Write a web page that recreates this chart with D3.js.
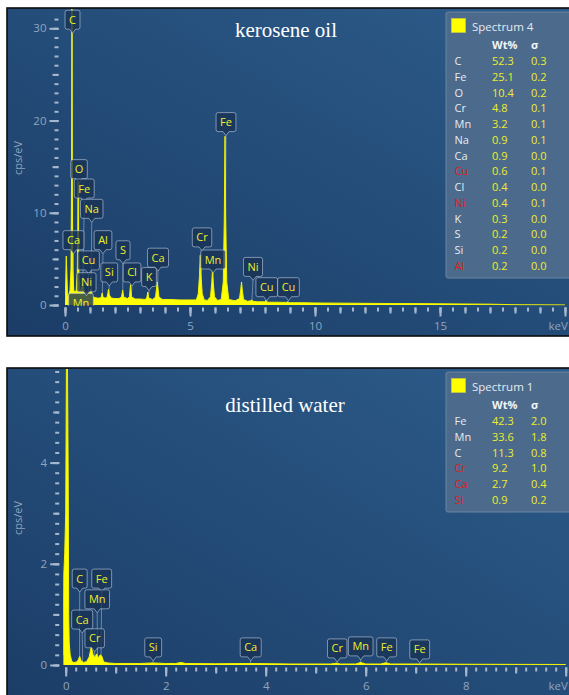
<!DOCTYPE html>
<html><head><meta charset="utf-8">
<script src="https://cdn.jsdelivr.net/npm/d3@7"></script>
<style>html,body{margin:0;padding:0;background:#fff;} svg{display:block;}</style>
</head><body>
<svg id="chart" width="569" height="695"></svg>
<script>
// ---------------- DATA ----------------
// Panel 1: kerosene oil spectrum (energy keV, counts cps/eV)
const keroseneKeV = [0,0.02,0.05,0.08,0.1,0.15,0.2,0.24,0.262,0.277,0.292,0.31,0.35,0.4,0.45,0.49,0.51,0.525,0.54,0.56,0.6,0.64,0.68,0.705,0.73,0.78,0.85,0.9,0.93,0.97,1.0,1.04,1.08,1.12,1.2,1.3,1.4,1.45,1.486,1.52,1.6,1.68,1.71,1.74,1.77,1.85,2.0,2.15,2.26,2.307,2.35,2.5,2.58,2.62,2.66,2.8,3.0,3.2,3.27,3.31,3.35,3.5,3.62,3.69,3.76,3.9,4.2,4.6,5.0,5.25,5.33,5.38,5.41,5.44,5.49,5.57,5.7,5.82,5.87,5.9,5.93,5.98,6.1,6.25,6.33,6.37,6.4,6.43,6.47,6.55,6.8,6.98,7.03,7.06,7.09,7.14,7.3,7.42,7.47,7.52,7.7,7.98,8.04,8.1,8.4,8.85,8.9,8.95,9.5,10,11,12,13,14,15,16,17,18,20];
const keroseneCps = [0.3,1.5,5.3,3.0,1.0,1.1,1.6,4.0,14,34,14,4.0,1.6,1.4,1.6,3.5,8.0,13.5,8.0,3.0,1.5,1.7,2.0,2.4,2.0,1.4,1.3,1.3,1.4,1.3,1.4,1.7,1.2,0.9,0.8,0.75,0.75,0.85,1.3,0.85,0.75,0.8,1.2,1.7,1.1,0.75,0.7,0.7,0.85,1.6,0.85,0.7,0.9,2.2,0.9,0.65,0.65,0.6,0.75,1.4,0.75,0.6,0.85,2.5,0.85,0.6,0.6,0.55,0.55,0.55,1.2,3.2,5.4,3.2,1.2,0.55,0.5,0.9,2.4,3.8,2.4,0.9,0.5,0.6,2.5,9.0,18.3,9.0,2.5,0.6,0.45,0.7,1.7,2.5,1.7,0.6,0.4,0.45,0.55,0.4,0.35,0.35,0.5,0.3,0.3,0.28,0.35,0.25,0.25,0.22,0.2,0.18,0.16,0.15,0.13,0.11,0.09,0.03,0.01];

// Panel 2: distilled water spectrum
const waterKeV = [-0.05,-0.04,-0.02,0,0.015,0.025,0.035,0.05,0.06,0.07,0.09,0.12,0.15,0.22,0.25,0.28,0.31,0.36,0.42,0.47,0.51,0.55,0.58,0.62,0.65,0.69,0.72,0.76,0.85,1.0,1.5,1.74,2.0,2.2,2.3,2.4,3.0,3.69,4.5,5.3,5.41,5.5,5.8,5.9,6.0,6.3,6.4,6.5,7.06,8,10];
const waterCps = [0.2,1.8,2.2,3.0,6.0,9.0,6.0,3.8,1.0,0.45,0.2,0.08,0.05,0.06,0.1,0.17,0.08,0.05,0.07,0.16,0.36,0.2,0.15,0.22,0.14,0.2,0.18,0.06,0.04,0.03,0.03,0.04,0.03,0.03,0.05,0.03,0.025,0.03,0.02,0.02,0.035,0.02,0.02,0.05,0.02,0.02,0.045,0.02,0.02,0.015,0.01];

// Peak labels: element, peak energy, label centre energy, label bottom (cps/eV)
const keroseneLabelEl   = ["Mn","C","O","Fe","Na","Ca","Al","Cu","S","Ca","Si","Cl","K","Ni","Cr","Mn","Ni","Cu","Cu","Fe"];
const keroseneLabelPeak = [0.637,0.277,0.525,0.705,1.04,0.341,1.486,0.93,2.307,3.69,1.74,2.62,3.31,0.851,5.41,5.90,7.47,8.04,8.90,6.40];
const keroseneLabelKeV  = [0.64,0.30,0.56,0.77,1.07,0.34,1.52,0.94,2.32,3.72,1.77,2.68,3.36,0.86,5.48,5.92,7.52,8.07,8.94,6.44];
const keroseneLabelCps  = [-0.8,29.9,13.7,11.6,9.4,6.0,6.0,3.8,4.9,4.1,2.5,2.5,2.0,1.44,6.3,3.9,3.1,0.9,0.9,18.8];

const waterLabelEl   = ["C","Fe","Mn","Ca","Cr","Si","Ca","Cr","Mn","Fe","Fe"];
const waterLabelPeak = [0.277,0.705,0.637,0.341,0.573,1.74,3.69,5.41,5.90,6.40,7.06];
const waterLabelKeV  = [0.28,0.72,0.63,0.33,0.58,1.75,3.70,5.43,5.90,6.42,7.08];
const waterLabelCps  = [1.52,1.52,1.11,0.71,0.34,0.16,0.16,0.14,0.18,0.16,0.12];

// Quantification tables
const keroseneElements = ["C","Fe","O","Cr","Mn","Na","Ca","Cu","Cl","Ni","K","S","Si","Al"];
const keroseneWt       = [52.3,25.1,10.4,4.8,3.2,0.9,0.9,0.6,0.4,0.4,0.3,0.2,0.2,0.2];
const keroseneSigma    = [0.3,0.2,0.2,0.1,0.1,0.1,0.0,0.1,0.0,0.1,0.0,0.0,0.0,0.0];
const keroseneRed      = ["Cu","Ni","Al"];

const waterElements = ["Fe","Mn","C","Cr","Ca","Si"];
const waterWt       = [42.3,33.6,11.3,9.2,2.7,0.9];
const waterSigma    = [2.0,1.8,0.8,1.0,0.4,0.2];
const waterRed      = ["Cr","Ca","Si"];

// Tick labels
const keroseneXTicks = [0,5,10,15];
const keroseneYTicks = [0,10,20,30];
const waterXTicks = [0,2,4,6,8];
const waterYTicks = [0,2,4];

// ---------------- DRAW ----------------
const svg = d3.select("#chart");
const defs = svg.append("defs");
const grad = defs.append("linearGradient").attr("id","bg")
  .attr("x1","0").attr("y1","1").attr("x2","1").attr("y2","0");
grad.append("stop").attr("offset","0").attr("stop-color","#1b3d67");
grad.append("stop").attr("offset","1").attr("stop-color","#2d5c8a");

const tickColor = "#a6b8cd";
const labelColor = "#8fa5bf";
const uiFont = "'Open Sans', 'Noto Sans', sans-serif";

function drawPanel(o) {
  const g = svg.append("g");
  const [bx, by, bw, bh] = o.box;
  g.append("rect").attr("x",bx).attr("y",by).attr("width",bw).attr("height",bh)
    .attr("fill","url(#bg)").attr("stroke","#0c0c0c").attr("stroke-width",1.6);

  const x = d3.scaleLinear().domain(o.xDomain).range(o.xRange);
  const y = d3.scaleLinear().domain(o.yDomain).range(o.yRange);

  // Y axes (minor / medium / major)
  const yAxisX = x(0) - 6.5;
  const yMinor = d3.range(0, o.yTickMax + 1e-9, o.yMinor).map(v => +v.toFixed(4));
  const yMed = d3.range(0, o.yTickMax + 1e-9, o.yMed).map(v => +v.toFixed(4));
  [[yMinor,4],[yMed,6],[o.yTicks,9]].forEach(([vals,size],i) => {
    const ax = d3.axisLeft(y).tickValues(vals).tickSize(size).tickPadding(3)
      .tickFormat(i===2 ? d3.format("d") : () => "");
    const ga = g.append("g").attr("transform",`translate(${yAxisX},0)`).call(ax);
    ga.select(".domain").remove();
    ga.selectAll("line").attr("stroke",tickColor).attr("stroke-width",2);
    ga.selectAll("text").attr("fill",labelColor).attr("font-size",11.5).attr("font-family",uiFont);
  });

  // X axes
  const xAxisY = y(0) + 2.5;
  const xMinor = d3.range(0, o.xTickMax + 1e-9, o.xMinor).map(v => +v.toFixed(4));
  const xMed = d3.range(0, o.xTickMax + 1e-9, o.xMed).map(v => +v.toFixed(4));
  const xMaj = d3.range(0, o.xTickMax + 1e-9, o.xMaj).map(v => +v.toFixed(4));
  [[xMinor,4,null],[xMed,6,null],[xMaj,9,o.xTicks]].forEach(([vals,size,lab],i) => {
    const ax = d3.axisBottom(x).tickValues(vals).tickSize(size).tickPadding(5.5)
      .tickFormat(d => (lab && lab.includes(d)) ? d3.format("d")(d) : "");
    const ga = g.append("g").attr("transform",`translate(0,${xAxisY})`).call(ax);
    ga.select(".domain").remove();
    ga.selectAll("line").attr("stroke",tickColor).attr("stroke-width",2);
    ga.selectAll("text").attr("fill",labelColor).attr("font-size",11.5).attr("font-family",uiFont);
  });
  g.append("text").attr("x",548.5).attr("y",xAxisY + 9 + 5.5 + 8.2)
    .attr("fill",labelColor).attr("font-size",11.5).attr("font-family",uiFont).text("keV");

  // y label
  g.append("text").attr("transform",`translate(${bx+14.5},${o.yLabelY}) rotate(-90)`)
    .attr("text-anchor","middle").attr("fill",labelColor).attr("font-size",11)
    .attr("font-family",uiFont).text("cps/eV");

  // title
  g.append("text").attr("x",o.titleX).attr("y",o.titleY).attr("text-anchor","middle")
    .attr("fill","#ffffff").attr("font-size",21)
    .attr("font-family","'Liberation Serif','Times New Roman',serif").text(o.title);

  // clip
  const cid = "clip" + o.id;
  defs.append("clipPath").attr("id",cid).append("rect")
    .attr("x", x(o.xDomain[0])).attr("y", by + 1)
    .attr("width", bx + bw - x(o.xDomain[0])).attr("height", y(0) + 0.5 - by - 1);

  const spec = d3.zip(o.keV, o.cps);
  const labH = 19, tipH = 4;

  // connector lines
  const conn = g.append("g").attr("clip-path",`url(#${cid})`);
  o.labEl.forEach((el,i) => {
    conn.append("line")
      .attr("x1", x(o.labKeV[i])).attr("y1", y(o.labCps[i]) + tipH)
      .attr("x2", x(o.labPeak[i])).attr("y2", y(0))
      .attr("stroke","rgba(205,215,230,0.45)").attr("stroke-width",1);
  });

  // spectrum
  const sg = g.append("g").attr("clip-path",`url(#${cid})`);
  sg.append("path").datum(spec)
    .attr("d", d3.area().x(d => x(d[0])).y0(y(0)).y1(d => y(d[1])))
    .attr("fill","#ffff00");
  sg.append("path").datum(spec)
    .attr("d", d3.line().x(d => x(d[0])).y(d => y(d[1])))
    .attr("fill","none").attr("stroke","#f2f200").attr("stroke-width",1);

  // labels
  const lg = g.append("g").attr("clip-path",`url(#${cid}L)`);
  defs.append("clipPath").attr("id",cid+"L").append("rect")
    .attr("x", bx).attr("y", by).attr("width", bw).attr("height", y(0) + 1 - by);
  o.labEl.forEach((el,i) => {
    const cx = x(o.labKeV[i]);
    const bottom = y(o.labCps[i]);
    const gg = lg.append("g");
    const t = gg.append("text").attr("x",cx).attr("y",bottom - 5.5).attr("text-anchor","middle")
      .attr("fill","#eeee2a").attr("font-size",11).attr("font-family",uiFont).text(el);
    const w = Math.max(13, t.node().getComputedTextLength() + 8);
    const l = cx - w/2, r = cx + w/2, top = bottom - labH;
    const p = `M${l+2},${top} H${r-2} Q${r},${top} ${r},${top+2} V${bottom-2} Q${r},${bottom} ${r-2},${bottom}` +
      ` H${cx+3} L${cx},${bottom+tipH} L${cx-3},${bottom} H${l+2} Q${l},${bottom} ${l},${bottom-2} V${top+2} Q${l},${top} ${l+2},${top} Z`;
    gg.insert("path","text").attr("d",p)
      .attr("fill","rgba(24,50,84,0.78)").attr("stroke","rgba(190,205,225,0.6)").attr("stroke-width",1);
  });

  // legend
  const [lx, ly, lw, lh] = o.legendBox;
  const leg = g.append("g");
  leg.append("rect").attr("x",lx).attr("y",ly).attr("width",lw).attr("height",lh).attr("rx",2)
    .attr("fill","#4c6a8b").attr("stroke","#6985a3").attr("stroke-width",1);
  leg.append("rect").attr("x",lx+5.5).attr("y",ly+6.5).attr("width",14).attr("height",14)
    .attr("fill","#ffff00").attr("stroke","#c8c840").attr("stroke-width",0.8);
  leg.append("text").attr("x",lx+26).attr("y",ly+19).attr("fill","#e4eaf1")
    .attr("font-size",11.5).attr("font-family",uiFont).text(o.legendTitle);
  leg.append("text").attr("x",lx+46).attr("y",ly+37).attr("fill","#f2f5f8").attr("font-weight","bold")
    .attr("font-size",11).attr("font-family",uiFont).text("Wt%");
  leg.append("text").attr("x",lx+85).attr("y",ly+37).attr("fill","#f2f5f8").attr("font-weight","bold")
    .attr("font-size",11).attr("font-family",uiFont).text("σ");
  o.legEl.forEach((el,i) => {
    const yy = ly + 53 + i * 15.77;
    leg.append("text").attr("x",lx+8.5).attr("y",yy)
      .attr("fill", o.legRed.includes(el) ? "#dc1e1e" : "#e6ecf2")
      .attr("font-size",11).attr("font-family",uiFont).text(el);
    leg.append("text").attr("x",lx+46).attr("y",yy).attr("fill","#eeee2a")
      .attr("font-size",11).attr("font-family",uiFont).text(o.legWt[i].toFixed(1));
    leg.append("text").attr("x",lx+85).attr("y",yy).attr("fill","#eeee2a")
      .attr("font-size",11).attr("font-family",uiFont).text(o.legSig[i].toFixed(1));
  });
}

drawPanel({
  id: 1, box: [7, 8, 570, 328],
  xDomain: [0, 20.5], xRange: [65, 65 + 20.5*25],
  yDomain: [0, 32], yRange: [305, 305 - 32*9.223],
  yTickMax: 31, yMinor: 1, yMed: 5, yTicks: keroseneYTicks,
  xTickMax: 20, xMinor: 0.5, xMed: 1, xMaj: 5, xTicks: keroseneXTicks,
  yLabelY: 158, title: "kerosene oil", titleX: 286, titleY: 37,
  keV: keroseneKeV, cps: keroseneCps,
  labEl: keroseneLabelEl, labPeak: keroseneLabelPeak, labKeV: keroseneLabelKeV, labCps: keroseneLabelCps,
  legendBox: [446, 12, 140, 266], legendTitle: "Spectrum 4",
  legEl: keroseneElements, legWt: keroseneWt, legSig: keroseneSigma, legRed: keroseneRed
});

drawPanel({
  id: 2, box: [7, 368, 570, 340],
  xDomain: [-0.05, 10.2], xRange: [65.7 - 2.5, 65.7 + 10.2*50],
  yDomain: [0, 6], yRange: [665, 665 - 6*50.6],
  yTickMax: 5.8, yMinor: 0.2, yMed: 1, yTicks: waterYTicks,
  xTickMax: 10, xMinor: 0.2, xMed: 1, xMaj: 2, xTicks: waterXTicks,
  yLabelY: 518, title: "distilled water", titleX: 285, titleY: 412,
  keV: waterKeV, cps: waterCps,
  labEl: waterLabelEl, labPeak: waterLabelPeak, labKeV: waterLabelKeV, labCps: waterLabelCps,
  legendBox: [446, 372, 140, 140], legendTitle: "Spectrum 1",
  legEl: waterElements, legWt: waterWt, legSig: waterSigma, legRed: waterRed
});
</script>
</body></html>
